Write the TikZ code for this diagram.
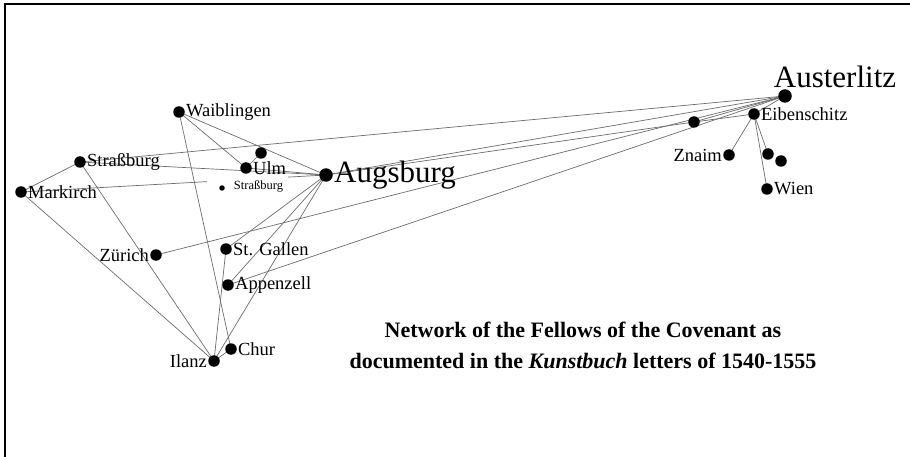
\documentclass[tikz,border=0pt]{standalone}
\usepackage{fontspec}
\setmainfont{Liberation Serif}
\usetikzlibrary{positioning}

\begin{document}
\begin{tikzpicture}[
  x=1pt, y=-1pt,
  city/.style={draw=none, fill=black, circle, minimum size=11.5pt, inner sep=0pt},
  bigcity/.style={city, minimum size=13.5pt},
  tinycity/.style={city, minimum size=5.5pt},
  place/.style={font=\fontsize{18.5}{20}\selectfont, inner sep=1pt},
  bigplace/.style={font=\fontsize{31}{34}\selectfont, inner sep=1pt},
  link/.style={draw=gray!85!black, line width=0.7pt},
  title/.style={font=\fontsize{22}{31}\selectfont\bfseries, align=center}
]
\useasboundingbox (0,0) rectangle (910,457);

% --- frame (only top and left show) ---
\draw[line width=2pt] (5,457) -- (5,4) -- (910,4);

% --- places ---
\coordinate (Waiblingen) at (179,112);
\coordinate (UlmB) at (261,153);
\coordinate (Ulm) at (246,168);
\coordinate (Augsburg) at (326,175);
\coordinate (Strassburg) at (80,162);
\coordinate (Markirch) at (21,192);
\coordinate (StrassburgB) at (222,188);
\coordinate (Zurich) at (156,255);
\coordinate (StGallen) at (226,249);
\coordinate (Appenzell) at (228,285);
\coordinate (Chur) at (231,349);
\coordinate (Ilanz) at (214,361);
\coordinate (Austerlitz) at (785,96);
\coordinate (Eibenschitz) at (754,114);
\coordinate (AusterlitzB) at (694,122);
\coordinate (Znaim) at (729,155);
\coordinate (WienA) at (768,154);
\coordinate (WienB) at (781,161);
\coordinate (Wien) at (767,189);

% --- links ---
\foreach \a/\b in {Strassburg/Austerlitz, Strassburg/Augsburg, Strassburg/Markirch,
  Strassburg/Ilanz, Markirch/Ilanz, Markirch/Augsburg,
  Waiblingen/Ulm, Waiblingen/Augsburg, Waiblingen/Chur, Ulm/UlmB, Ulm/Augsburg,
  Augsburg/StGallen, Augsburg/Appenzell, Augsburg/Ilanz,
  Augsburg/Austerlitz, Augsburg/AusterlitzB,
  StGallen/Ilanz, Ilanz/Chur, Zurich/Austerlitz, Appenzell/Austerlitz,
  AusterlitzB/Austerlitz, AusterlitzB/Eibenschitz, Austerlitz/Eibenschitz,
  Eibenschitz/Znaim, Eibenschitz/WienA, Eibenschitz/Wien}
  \draw[link] (\a) -- (\b);

% the small label hides the line behind it
\node[fill=white, text width=71pt, align=right, minimum height=20pt, inner xsep=5pt,
  font=\fontsize{12.5}{14}\selectfont] (StrassburgBlabel) at (247.5,186) {Straßburg};

% --- dots and names ---
\node[city, label={[place]right:Waiblingen}] (nWaiblingen) at (Waiblingen) {};
\node[city] (nUlmB) at (UlmB) {};
\node[city, label={[place]right:Ulm}] (nUlm) at (Ulm) {};
\node[bigcity, label={[bigplace]right:Augsburg}] (nAugsburg) at (Augsburg) {};
\node[city, label={[place]right:Straßburg}] (nStrassburg) at (Strassburg) {};
\node[city, label={[place]right:Markirch}] (nMarkirch) at (Markirch) {};
\node[tinycity] (nStrassburgB) at (StrassburgB) {};
\node[city, label={[place]left:Zürich}] (nZurich) at (Zurich) {};
\node[city, label={[place]right:St. Gallen}] (nStGallen) at (StGallen) {};
\node[city, label={[place]right:Appenzell}] (nAppenzell) at (Appenzell) {};
\node[city, label={[place]right:Chur}] (nChur) at (Chur) {};
\node[city, label={[place]left:Ilanz}] (nIlanz) at (Ilanz) {};
\node[bigcity, label={[bigplace, xshift=50pt]above:Austerlitz}] (nAusterlitz) at (Austerlitz) {};
\node[city, label={[place]right:Eibenschitz}] (nEibenschitz) at (Eibenschitz) {};
\node[city] (nAusterlitzB) at (AusterlitzB) {};
\node[city, label={[place]left:Znaim}] (nZnaim) at (Znaim) {};
\node[city] (nWienA) at (WienA) {};
\node[city] (nWienB) at (WienB) {};
\node[city, label={[place]right:Wien}] (nWien) at (Wien) {};

% --- caption ---
\node[title] (caption) at (583,345) {Network of the Fellows of the Covenant as\\
  documented in the \textit{Kunstbuch} letters of 1540-1555};

\end{tikzpicture}
\end{document}
